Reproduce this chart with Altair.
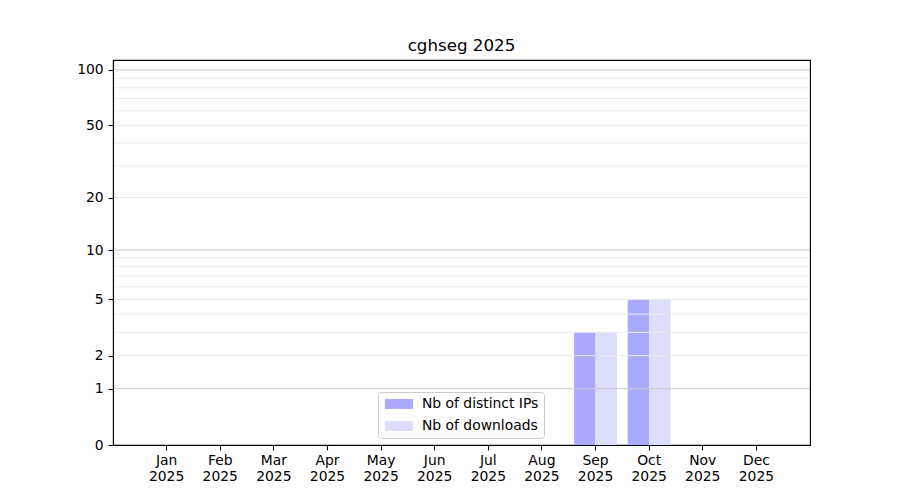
import altair as alt
import pandas as pd

months = ["Jan 2025", "Feb 2025", "Mar 2025", "Apr 2025", "May 2025", "Jun 2025",
          "Jul 2025", "Aug 2025", "Sep 2025", "Oct 2025", "Nov 2025", "Dec 2025"]
distinct_ips = [0, 0, 0, 0, 0, 0, 0, 0, 3, 5, 0, 0]
downloads = [0, 0, 0, 0, 0, 0, 0, 0, 3, 5, 0, 0]
series_names = ["Nb of distinct IPs", "Nb of downloads"]
series_colors = ["#aaaaff", "#ddddff"]
y_ticks = [0, 1, 2, 5, 10, 20, 50, 100]
major_grid = [1, 10, 100]
minor_grid = [2, 3, 4, 5, 6, 7, 8, 9, 20, 30, 40, 50, 60, 70, 80, 90]
y_max = 113

rows = []
for m, a, b in zip(months, distinct_ips, downloads):
    rows.append({"month": m, "series": series_names[0], "value": a})
    rows.append({"month": m, "series": series_names[1], "value": b})
df = pd.DataFrame(rows)

FONT = "DejaVu Sans"
FS = 13.9

yscale = alt.Scale(type="symlog", constant=1, domain=[0, y_max], nice=False, zero=True)
xscale = alt.Scale(domain=months, paddingInner=0, paddingOuter=0.5)

bars = alt.Chart(df).mark_bar(strokeWidth=0).encode(
    x=alt.X("month:N", scale=xscale, sort=months,
            axis=alt.Axis(title=None, labelAngle=0, labelExpr="split(datum.label, ' ')",
                          labelFont=FONT, labelFontSize=FS, labelColor="black",
                          labelLineHeight=16, labelPadding=4, tickSize=4.9,
                          tickColor="black", domainColor="black", tickWidth=1.1,
                          domainWidth=1.1, grid=False, labelBaseline="top", zindex=2)),
    xOffset=alt.XOffset("series:N", scale=alt.Scale(domain=series_names, paddingInner=0, paddingOuter=0.25)),
    y=alt.Y("value:Q", scale=yscale,
            axis=alt.Axis(title=None, values=y_ticks, grid=False, labelFont=FONT,
                          labelFontSize=FS, labelColor="black", tickSize=4.9,
                          labelPadding=4.9, tickColor="black", domainColor="black",
                          tickWidth=1.1, domainWidth=1.1, zindex=2)),
    color=alt.Color("series:N",
                    scale=alt.Scale(domain=series_names, range=series_colors),
                    legend=alt.Legend(title=None, orient="none", legendX=265, legendY=332,
                                      padding=5, strokeColor="#cccccc", fillColor="white",
                                      cornerRadius=3, symbolType="M-1,-1 L4.6,-1 L4.6,1 L-1,1 Z",
                                      symbolSize=100, symbolStrokeWidth=0, labelOffset=25,
                                      labelFont=FONT, labelFontSize=FS, labelColor="black",
                                      rowPadding=7, symbolOpacity=1, zindex=3)),
)

minor_df = pd.DataFrame({"v": minor_grid})
major_df = pd.DataFrame({"v": major_grid})

minor = alt.Chart(minor_df).mark_rule(color="#ebebeb", strokeWidth=1).encode(
    y=alt.Y("v:Q", scale=yscale)
)
major = alt.Chart(major_df).mark_rule(color="#cbcbcb", strokeWidth=1).encode(
    y=alt.Y("v:Q", scale=yscale)
)

chart = alt.layer(bars, minor, major).properties(
    width=697, height=385,
    title=alt.TitleParams("cghseg 2025", font=FONT, fontSize=16.7, fontWeight="normal",
                          color="black", offset=5, anchor="middle", baseline="bottom",
                          dy=17),
    autosize=alt.AutoSizeParams(type="none"),
    padding={"left": 105, "top": 52, "right": 82, "bottom": 47},
).configure_view(stroke="black", strokeWidth=1.1)

chart.save("out.html", embed_options={"renderer": "svg", "actions": False})
